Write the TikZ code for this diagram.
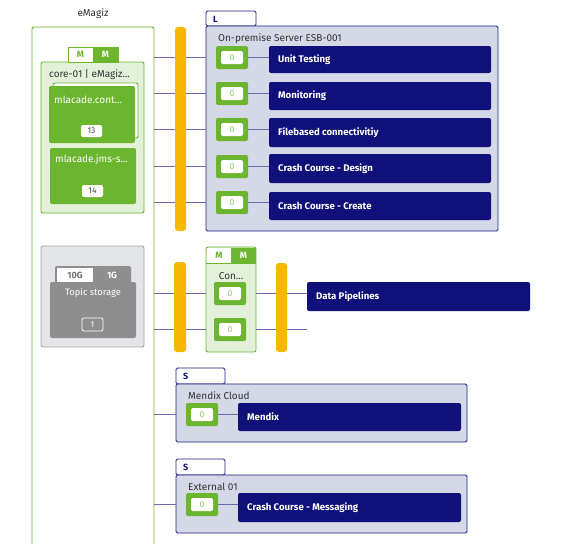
\documentclass[tikz,border=0pt]{standalone}
\usepackage{fontspec}
\setmainfont{Fira Sans}
\usetikzlibrary{fit}
\definecolor{egreen}{HTML}{6CB52E}
\definecolor{lgreen}{HTML}{E3F0DA}
\definecolor{navy}{HTML}{10107A}
\definecolor{navyb}{HTML}{1E1E80}
\definecolor{lav}{HTML}{D5D8E7}
\definecolor{ybar}{HTML}{F5B700}
\definecolor{linec}{HTML}{6A6AB0}
\definecolor{sgray}{HTML}{8E8E8E}
\definecolor{lgray}{HTML}{E4E5E8}
\definecolor{grayb}{HTML}{A6A6A6}
\definecolor{btxt}{HTML}{8CC864}
\definecolor{txt}{HTML}{333333}
\tikzset{
  rect/.style={inner sep=0pt, outer sep=0pt},
  gbox/.style={rect, draw=egreen, line width=0.9pt, fill=lgreen, rounded corners=2pt},
  obox/.style={rect, draw=egreen, line width=0.9pt, fill=white, rounded corners=2pt},
  card/.style={rect, fill=egreen, rounded corners=2pt},
  bar/.style={rect, fill=ybar, rounded corners=3pt},
  lbox/.style={rect, draw=navyb, line width=0.9pt, fill=lav, rounded corners=1.5pt},
  ltab/.style={rect, draw=navyb, line width=0.9pt, fill=white, rounded corners=1.5pt},
  proc/.style={rect, fill=navy, rounded corners=2pt},
  proctext/.style={inner sep=0pt, text=white, font=\fontsize{9.6}{11}\selectfont\bfseries},
  badgeo/.style={rect, fill=egreen, rounded corners=2pt},
  badgei/.style={rect, fill=white, rounded corners=2pt, minimum width=22pt, minimum height=13pt, text=btxt, font=\fontsize{8.5}{10}\selectfont},
  lbl/.style={inner sep=0pt, text=txt, font=\fontsize{10}{12}\selectfont},
  wlbl/.style={inner sep=0pt, text=white, font=\fontsize{10}{12}\selectfont},
  tablbl/.style={inner sep=0pt, font=\fontsize{9}{10}\selectfont\bfseries},
  cnt/.style={inner sep=0pt, text=txt!80!egreen, font=\fontsize{8.5}{10}\selectfont},
  conn/.style={draw=linec, line width=0.8pt},
}
\newcommand{\mkbadge}[3]{%
  \node[badgeo, fit={(#2,#3) (#2+32,#3+23)}] (#1) {};
  \node[badgei] (#1i) at (#1.center) {0};
}
\newcommand{\mkproc}[6]{%
  \node[proc, fit={(#2,#3) (#4,#5)}] (#1) {};
  \node[proctext, anchor=west] (#1t) at ([xshift=9pt]#1.west) {#6};
}
\begin{document}
\begin{tikzpicture}[x=1pt,y=-1pt]
\useasboundingbox (0,0) rectangle (566,544);
\clip (0,0) rectangle (566,544);

% eMagiz column
\node[lbl] (title) at (93,14) {eMagiz};
\node[obox, fit={(32,27) (154,580)}] (emag) {};
% core box
\node[gbox, fit={(41,62) (144,213)}] (core) {};
\node[rect, fill=white, draw=egreen, line width=0.9pt, fit={(68,47) (93,62)}] (mtab1) {};
\node[rect, fill=egreen, draw=egreen, line width=0.9pt, fit={(93,47) (118,62)}] (mtab2) {};
\node[tablbl, text=egreen] at (mtab1.center) {M};
\node[tablbl, text=white] at (mtab2.center) {M};
\node[lbl, anchor=west] (coret) at (49,75) {core-01 | eMagiz...};
\node[obox, fit={(53,83) (138,138)}] (cback) {};
\node[card, fit={(49,86) (135,143)}] (c1) {};
\node[wlbl, anchor=west] (c1t) at (54,100) {mlacade.cont...};
\node[rect, fill=white, rounded corners=2pt, fit={(81,125) (102,137)}] (c1b) {};
\node[cnt] at (c1b.center) {13};
\node[card, fit={(50,148) (136,204)}] (c2) {};
\node[wlbl, anchor=west] (c2t) at (55,160) {mlacade.jms-s...};
\node[rect, fill=white, rounded corners=2pt, fit={(82,185) (103,197)}] (c2b) {};
\node[cnt] at (c2b.center) {14};

% topic storage
\node[rect, draw=grayb, line width=0.9pt, fill=lgray, rounded corners=2pt, fit={(41,246) (144,347)}] (topic) {};
\node[rect, fill=sgray, rounded corners=2pt, fit={(55,266) (131,284)}] (ttab) {};
\node[rect, fill=white, fit={(57,268) (93,282)}] (ttab1) {};
\node[tablbl, text=sgray!80!black] at (ttab1.center) {10G};
\node[tablbl, text=white] at (112,275) {1G};
\node[rect, fill=sgray, rounded corners=2pt, fit={(50,282) (136,338)}] (tbody) {};
\node[inner sep=0pt, text=white, font=\fontsize{9.3}{11}\selectfont] (tt) at (93,293) {Topic storage};
\node[rect, draw=white, line width=0.8pt, rounded corners=2pt, fit={(82,318) (103,331)}] (tb) {};
\node[inner sep=0pt, text=white, font=\fontsize{8.5}{10}\selectfont] at (tb.center) {1};

% bars
\node[bar, fit={(175,27) (186,231)}] (bar1) {};
\node[bar, fit={(174,262) (186,352)}] (bar2) {};
\node[bar, fit={(276,263) (287,352)}] (bar3) {};

% L box
\node[ltab, fit={(206,11) (256,26)}] (ltab) {};
\node[tablbl, text=navy, anchor=west] at (213,19) {L};
\node[lbox, fit={(206,26) (498,231)}] (lb) {};
\node[lbl, anchor=west] (lbt) at (218,39) {On-premise Server ESB-001};
\mkbadge{b1}{216}{46}
\mkbadge{b2}{216}{82}
\mkbadge{b3}{216}{118}
\mkbadge{b4}{216}{155}
\mkbadge{b5}{216}{191}
\mkproc{p1}{269}{46}{491}{73}{Unit Testing}
\mkproc{p2}{269}{82}{491}{110}{Monitoring}
\mkproc{p3}{269}{118}{491}{147}{Filebased connectivitiy}
\mkproc{p4}{269}{154}{491}{183}{Crash Course - Design}
\mkproc{p5}{269}{192}{491}{220}{Crash Course - Create}
\foreach \b/\p in {b1/p1,b2/p2,b3/p3,b4/p4,b5/p5}{
  \draw[conn] (emag.east |- \b.center) -- (bar1.west |- \b.center);
  \draw[conn] (bar1.east |- \b.center) -- (lb.west |- \b.center);
  \draw[conn] (\b.east) -- (\p.west |- \b.east);
}

% Con box
\node[gbox, fit={(206,247) (256,352)}] (con) {};
\node[rect, fill=white, fit={(207,248) (231,263)}] (ctab1) {};
\node[rect, fill=egreen, fit={(231,248) (256,263)}] (ctab2) {};
\draw[egreen, line width=0.9pt] (con.west |- ctab1.south) -- (con.east |- ctab1.south);
\node[tablbl, text=egreen] at (ctab1.center) {M};
\node[tablbl, text=white] at (ctab2.center) {M};
\node[lbl] (cont) at (231,276) {Con...};
\mkbadge{cb1}{214}{282}
\mkbadge{cb2}{214}{318}
\mkproc{dp}{307}{282}{530}{311}{Data Pipelines}
\coordinate (dpend) at (307,330);
\draw[conn] (emag.east |- cb1.center) -- (bar2.west |- cb1.center);
\draw[conn] (bar2.east |- cb1.center) -- (con.west |- cb1.center);
\draw[conn] (con.east |- cb1.center) -- (bar3.west |- cb1.center);
\draw[conn] (bar3.east |- cb1.center) -- (dp.west |- cb1.center);
\draw[conn] (emag.east |- cb2.center) -- (bar2.west |- cb2.center);
\draw[conn] (bar2.east |- cb2.center) -- (con.west |- cb2.center);
\draw[conn] (con.east |- cb2.center) -- (bar3.west |- cb2.center);
\draw[conn] (bar3.east |- cb2.center) -- (dpend |- cb2.center);

% Mendix Cloud
\node[ltab, fit={(176,368) (225,384)}] (mtab) {};
\node[tablbl, text=navy, anchor=west] at (183,376) {S};
\node[lbox, fit={(176,384) (467,442)}] (mc) {};
\node[lbl, anchor=west] (mct) at (188,396) {Mendix Cloud};
\mkbadge{mb}{186}{403}
\mkproc{mp}{238}{403}{461}{431}{Mendix}
\draw[conn] (emag.east |- mb.center) -- (mc.west |- mb.center);
\draw[conn] (mb.east) -- (mp.west |- mb.east);

% External 01
\node[ltab, fit={(176,459) (225,475)}] (etab) {};
\node[tablbl, text=navy, anchor=west] at (183,467) {S};
\node[lbox, fit={(176,475) (467,533)}] (ex) {};
\node[lbl, anchor=west] (ext) at (188,487) {External 01};
\mkbadge{eb}{186}{493}
\mkproc{ep}{238}{493}{461}{522}{Crash Course - Messaging}
\draw[conn] (emag.east |- eb.center) -- (ex.west |- eb.center);
\draw[conn] (eb.east) -- (ep.west |- eb.east);
\end{tikzpicture}
\end{document}
